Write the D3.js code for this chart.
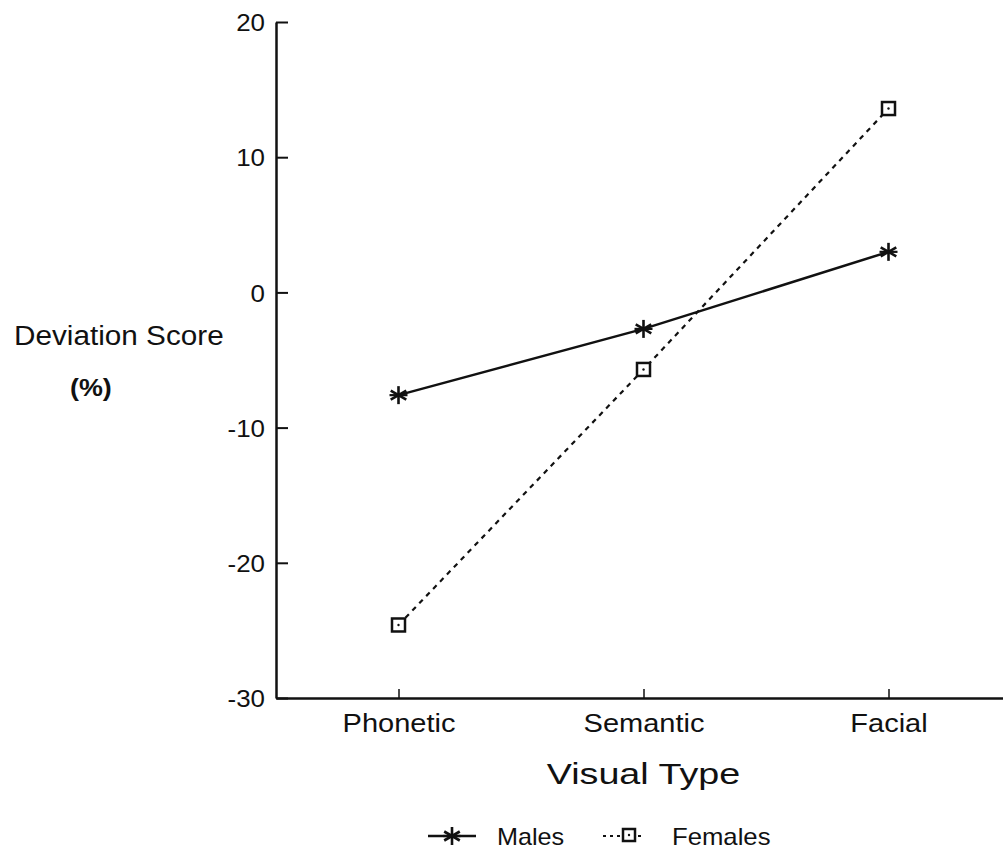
<!DOCTYPE html>
<html><head><meta charset="utf-8">
<script src="https://cdn.jsdelivr.net/npm/d3@7"></script>
<style>body{margin:0;background:#fff}svg{display:block}text{font-family:"Liberation Sans",Arial,sans-serif;fill:#111}</style>
</head><body>
<script>
const categories = ["Phonetic", "Semantic", "Facial"];
const males = [-7.6, -2.7, 3.0];
const females = [-24.6, -5.7, 13.6];
const yTicks = [20, 10, 0, -10, -20, -30];

const W = 1003, H = 863;
const svg = d3.select("body").append("svg").attr("width", W).attr("height", H);
const mLeft = 276, mRight = 1011, mTop = 22, mBottom = 698;
const x = d3.scalePoint().domain(categories).range([mLeft, mRight]).padding(0.5);
const y = d3.scaleLinear().domain([-30, 20]).range([mBottom, mTop]);
const ink = "#111";

function stretch(sel, k) {
  sel.each(function () {
    const n = this.getComputedTextLength();
    d3.select(this).attr("textLength", n * k).attr("lengthAdjust", "spacingAndGlyphs");
  });
}

// y axis
const ya = svg.append("g").attr("transform", `translate(${mLeft},0)`)
  .call(d3.axisLeft(y).tickValues(yTicks).tickSize(0).tickPadding(11).tickFormat(d => String(d)));
ya.select(".domain").attr("stroke", ink).attr("stroke-width", 2.5);
ya.selectAll("text").style("font-size", "24px").attr("dy", "0.36em");
stretch(ya.selectAll("text"), 1.08);
ya.selectAll(".tick").append("line").attr("x1", 0).attr("x2", 12).attr("stroke", ink).attr("stroke-width", 2);
// x axis
const xa = svg.append("g").attr("transform", `translate(0,${mBottom})`)
  .call(d3.axisBottom(x).tickSize(0).tickPadding(16));
xa.select(".domain").attr("stroke", ink).attr("stroke-width", 2.5);
xa.selectAll("text").style("font-size", "25px").attr("dy", "0.71em");
stretch(xa.selectAll("text"), 1.16);
xa.selectAll(".tick").append("line").attr("y1", 0).attr("y2", -9).attr("stroke", ink).attr("stroke-width", 1.5);

// axis titles
const t1 = svg.append("text").attr("x", 14).attr("y", 345).style("font-size", "27px").text("Deviation Score");
stretch(t1, 1.1);
const t2 = svg.append("text").attr("x", 70).attr("y", 396).style("font-size", "24px").style("font-weight", "bold").text("(%)");
stretch(t2, 1.12);
const t3 = svg.append("text").attr("x", x("Semantic")).attr("y", 784).attr("text-anchor", "middle").style("font-size", "29px").text("Visual Type");
stretch(t3, 1.3);

const line = d3.line().x((d, i) => x(categories[i])).y(d => y(d));
svg.append("path").datum(males).attr("d", line).attr("fill", "none").attr("stroke", ink).attr("stroke-width", 2.5);
svg.append("path").datum(females).attr("d", line).attr("fill", "none").attr("stroke", ink).attr("stroke-width", 2.2).attr("stroke-dasharray", "5,5");

function asterisk(g, cx, cy, r) {
  const a = g.append("g").attr("transform", `translate(${cx},${cy})`);
  [0, 60, 120].forEach(ang => {
    const t = ang * Math.PI / 180;
    a.append("line").attr("x1", -r * Math.sin(t)).attr("y1", -r * Math.cos(t))
      .attr("x2", r * Math.sin(t)).attr("y2", r * Math.cos(t))
      .attr("stroke", ink).attr("stroke-width", 2.6);
  });
  a.append("line").attr("x1", -r).attr("x2", r).attr("stroke", ink).attr("stroke-width", 2.2);
}
function square(g, cx, cy, s) {
  g.append("rect").attr("x", cx - s / 2).attr("y", cy - s / 2).attr("width", s).attr("height", s)
    .attr("fill", "#fff").attr("stroke", ink).attr("stroke-width", 2.5);
  g.append("circle").attr("cx", cx).attr("cy", cy).attr("r", 1.2).attr("fill", ink);
}
males.forEach((v, i) => asterisk(svg, x(categories[i]), y(v), 9));
females.forEach((v, i) => square(svg, x(categories[i]), y(v), 13));

// legend
const ly = 836;
svg.append("line").attr("x1", 428).attr("x2", 476).attr("y1", ly).attr("y2", ly).attr("stroke", ink).attr("stroke-width", 2.5);
asterisk(svg, 452, ly, 9);
const lt1 = svg.append("text").attr("x", 497).attr("y", ly + 9).style("font-size", "24px").text("Males");
stretch(lt1, 1.05);
svg.append("line").attr("x1", 603).attr("x2", 642).attr("y1", ly).attr("y2", ly).attr("stroke", ink).attr("stroke-width", 2.2).attr("stroke-dasharray", "3,4");
square(svg, 629, ly - 1, 12);
const lt2 = svg.append("text").attr("x", 672).attr("y", ly + 9).style("font-size", "24px").text("Females");
stretch(lt2, 1.07);
</script>
</body></html>
